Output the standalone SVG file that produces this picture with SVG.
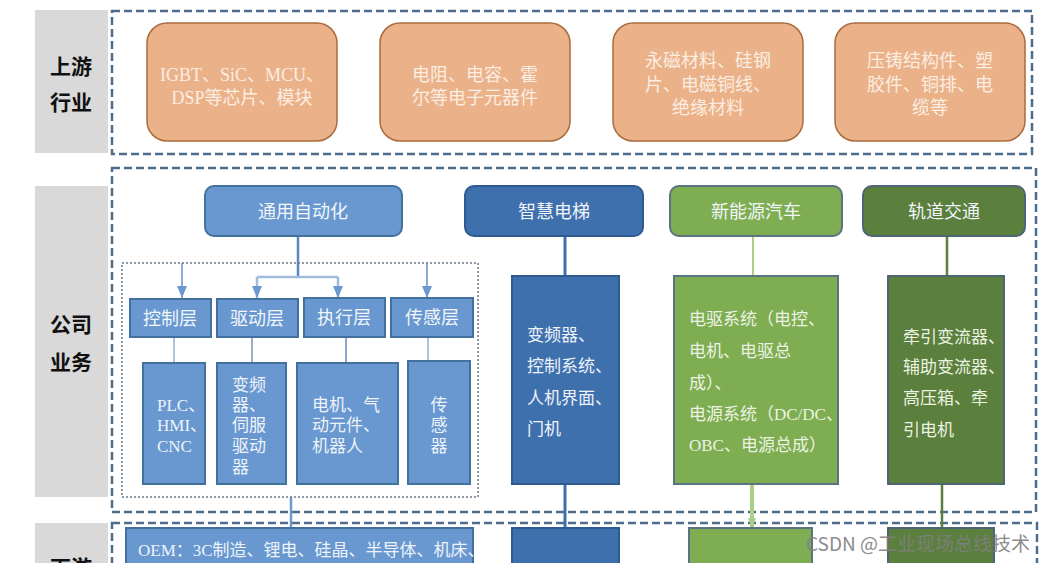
<svg xmlns="http://www.w3.org/2000/svg" width="1054" height="563" viewBox="0 0 1054 563">
<defs>
<style>
.lbl{fill:#D9D9D9}
.lt{font-family:"Noto Sans CJK SC",sans-serif;font-weight:bold;font-size:21px;fill:#111;text-anchor:middle}
.dash{fill:none;stroke:#4E6C8C;stroke-width:2.5;stroke-dasharray:8 4}
.dot{fill:none;stroke:#6A7785;stroke-width:1.5;stroke-dasharray:2 2}
.org{fill:#EBB28A;stroke:#A86B3E;stroke-width:1.5}
.ot{font-family:"Liberation Serif","Noto Sans CJK SC",serif;font-size:18px;fill:#FBEDE2;text-anchor:middle}
.b1{fill:#6898CF;stroke:#41719C;stroke-width:2}
.b2{fill:#3F70AE;stroke:#2F5A8F;stroke-width:2}
.g1{fill:#7EAD52;stroke:#5A7282;stroke-width:2}
.g2{fill:#5B7F3C;stroke:#4D6575;stroke-width:2}
.ht{font-family:"Noto Sans CJK SC",sans-serif;font-size:18px;fill:#F2F6FB;text-anchor:middle}
.dt{font-family:"Liberation Serif","Noto Sans CJK SC",serif;font-size:17px;fill:#EEF3FA}
.dtc{font-family:"Liberation Serif","Noto Sans CJK SC",serif;font-size:17px;fill:#EEF3FA;text-anchor:middle}
.gt{font-family:"Liberation Serif","Noto Sans CJK SC",serif;font-size:17px;fill:#ECF3E2}
.wm{font-family:"Noto Sans CJK SC",sans-serif;font-size:19px;fill:#808080;opacity:0.9}
</style>
<marker id="ab" viewBox="0 0 12 10" refX="12" refY="5" markerWidth="12" markerHeight="10" markerUnits="userSpaceOnUse" orient="auto">
<path d="M0,0 L12,5 L0,10 z" fill="#6B98CF"/>
</marker>
<marker id="ag" viewBox="0 0 10 8" refX="10" refY="4" markerWidth="10" markerHeight="8" markerUnits="userSpaceOnUse" orient="auto">
<path d="M0,0 L10,4 L0,8 z" fill="#A9CF8C"/>
</marker>
</defs>
<rect width="1054" height="563" fill="#FFFFFF"/>

<g id="sections">
<rect class="lbl" x="35" y="10" width="73" height="143"/>
<text class="lt" x="71" y="74">上游</text>
<text class="lt" x="71" y="110">行业</text>
<rect class="dash" x="112" y="11" width="920" height="143"/>

<rect class="lbl" x="35" y="186" width="73" height="311"/>
<text class="lt" x="71" y="332">公司</text>
<text class="lt" x="71" y="370">业务</text>
<rect class="dash" x="112" y="168" width="924" height="344"/>

<rect class="lbl" x="35" y="523" width="73" height="60"/>
<text class="lt" x="71" y="575">下游</text>
<rect class="dash" x="112" y="523" width="925" height="80"/>
</g>

<g id="up1"><rect class="org" x="147" y="23" width="190" height="118" rx="20"/>
<text class="ot" x="242" y="81">IGBT、SiC、MCU、</text>
<text class="ot" x="242" y="104">DSP等芯片、模块</text></g>
<g id="up2"><rect class="org" x="380" y="23" width="190" height="118" rx="20"/>
<text class="ot" x="475" y="81">电阻、电容、霍</text>
<text class="ot" x="475" y="104">尔等电子元器件</text></g>
<g id="up3"><rect class="org" x="613" y="23" width="190" height="118" rx="20"/>
<text class="ot" x="708" y="67">永磁材料、硅钢</text>
<text class="ot" x="708" y="91">片、电磁铜线、</text>
<text class="ot" x="708" y="114">绝缘材料</text></g>
<g id="up4"><rect class="org" x="835" y="23" width="190" height="118" rx="20"/>
<text class="ot" x="930" y="67">压铸结构件、塑</text>
<text class="ot" x="930" y="91">胶件、铜排、电</text>
<text class="ot" x="930" y="114">缆等</text></g>

<g id="connectors" fill="none">
<path d="M298,236 V277" stroke="#5A87C2" stroke-width="2.5"/>
<path d="M257,277 H338" stroke="#A3BBDB" stroke-width="2.5"/>
<path d="M257,277 V298" stroke="#A3BBDB" stroke-width="2.5" marker-end="url(#ab)"/>
<path d="M338,277 V298" stroke="#A3BBDB" stroke-width="2.5" marker-end="url(#ab)"/>
<path d="M182,263 V298" stroke="#8EABD3" stroke-width="2" marker-end="url(#ab)"/>
<path d="M427,263 V298" stroke="#8EABD3" stroke-width="2" marker-end="url(#ab)"/>
<path d="M174,337 V363" stroke="#AFC3DF" stroke-width="2"/>
<path d="M252,337 V363" stroke="#9FAFC2" stroke-width="2"/>
<path d="M346,337 V363" stroke="#8FA9CC" stroke-width="2"/>
<path d="M428,337 V361" stroke="#AFC3DF" stroke-width="2"/>
<path d="M291,497 V528" stroke="#6B98CF" stroke-width="2.5"/>
<path d="M565,236 V276" stroke="#3F70AE" stroke-width="3"/>
<path d="M565,484 V528" stroke="#3F70AE" stroke-width="3"/>
<path d="M753,236 V276" stroke="#A9CF8C" stroke-width="2"/>
<path d="M752,484 V528" stroke="#A9CF8C" stroke-width="4" marker-end="url(#ag)"/>
<path d="M947,236 V276" stroke="#5B7F3C" stroke-width="2.5"/>
<path d="M942,484 V528" stroke="#5B7F3C" stroke-width="2.5"/>
</g>

<g id="h_auto"><rect class="b1" x="205" y="186" width="197" height="50" rx="9"/>
<text class="ht" x="303" y="218">通用自动化</text></g>
<g id="h_lift"><rect class="b2" x="465" y="186" width="178" height="50" rx="9"/>
<text class="ht" x="554" y="218">智慧电梯</text></g>
<g id="h_ev"><rect class="g1" x="670" y="186" width="172" height="50" rx="9"/>
<text class="ht" x="756" y="218">新能源汽车</text></g>
<g id="h_rail"><rect class="g2" x="863" y="186" width="162" height="50" rx="9"/>
<text class="ht" x="944" y="218">轨道交通</text></g>

<g id="auto_group"><rect class="dot" x="122" y="263" width="356" height="234"/></g>

<g id="l_ctrl"><rect class="b1" x="130" y="299" width="81" height="38"/>
<text class="ht" x="170" y="325">控制层</text></g>
<g id="l_drive"><rect class="b1" x="217" y="299" width="81" height="38"/>
<text class="ht" x="257" y="325">驱动层</text></g>
<g id="l_exec"><rect class="b1" x="304" y="298" width="81" height="39"/>
<text class="ht" x="344" y="324">执行层</text></g>
<g id="l_sense"><rect class="b1" x="391" y="298" width="82" height="39"/>
<text class="ht" x="432" y="324">传感层</text></g>

<g id="d_ctrl"><rect class="b1" x="143" y="363" width="62" height="121"/>
<text class="dt" x="157" y="411">PLC、</text>
<text class="dt" x="157" y="431">HMI、</text>
<text class="dt" x="157" y="452">CNC</text></g>
<g id="d_drive"><rect class="b1" x="217" y="363" width="69" height="121"/>
<text class="dt" x="232" y="391">变频</text>
<text class="dt" x="232" y="411">器、</text>
<text class="dt" x="232" y="431">伺服</text>
<text class="dt" x="232" y="452">驱动</text>
<text class="dt" x="232" y="473">器</text></g>
<g id="d_exec"><rect class="b1" x="297" y="363" width="101" height="121"/>
<text class="dt" x="312" y="411">电机、气</text>
<text class="dt" x="312" y="431">动元件、</text>
<text class="dt" x="312" y="452">机器人</text></g>
<g id="d_sense"><rect class="b1" x="408" y="361" width="62" height="123"/>
<text class="dtc" x="439" y="411">传</text>
<text class="dtc" x="439" y="431">感</text>
<text class="dtc" x="439" y="452">器</text></g>

<g id="d_lift"><rect class="b2" x="512" y="276" width="107" height="208"/>
<text class="dt" x="527" y="341">变频器、</text>
<text class="dt" x="527" y="372">控制系统、</text>
<text class="dt" x="527" y="404">人机界面、</text>
<text class="dt" x="527" y="435">门机</text></g>
<g id="d_ev"><rect class="g1" x="674" y="276" width="164" height="208"/>
<text class="gt" x="689" y="325">电驱系统（电控、</text>
<text class="gt" x="689" y="357">电机、电驱总</text>
<text class="gt" x="689" y="389">成）、</text>
<text class="gt" x="689" y="420">电源系统（DC/DC、</text>
<text class="gt" x="689" y="451">OBC、电源总成）</text></g>
<g id="d_rail"><rect class="g2" x="888" y="276" width="116" height="208"/>
<text class="gt" x="903" y="343">牵引变流器、</text>
<text class="gt" x="903" y="373">辅助变流器、</text>
<text class="gt" x="903" y="404">高压箱、牵</text>
<text class="gt" x="903" y="436">引电机</text></g>

<g id="down_oem"><rect class="b1" x="126" y="528" width="347" height="60"/>
<text class="dt" x="138" y="556">OEM：3C制造、锂电、硅晶、半导体、机床、</text></g>
<g id="down_lift"><rect class="b2" x="512" y="528" width="107" height="60"/></g>
<g id="down_ev"><rect class="g1" x="689" y="528" width="123" height="60"/></g>
<g id="down_rail"><rect class="g2" x="888" y="528" width="106" height="60"/></g>

<text class="wm" x="806" y="551">CSDN @工业现场总线技术</text>
</svg>
